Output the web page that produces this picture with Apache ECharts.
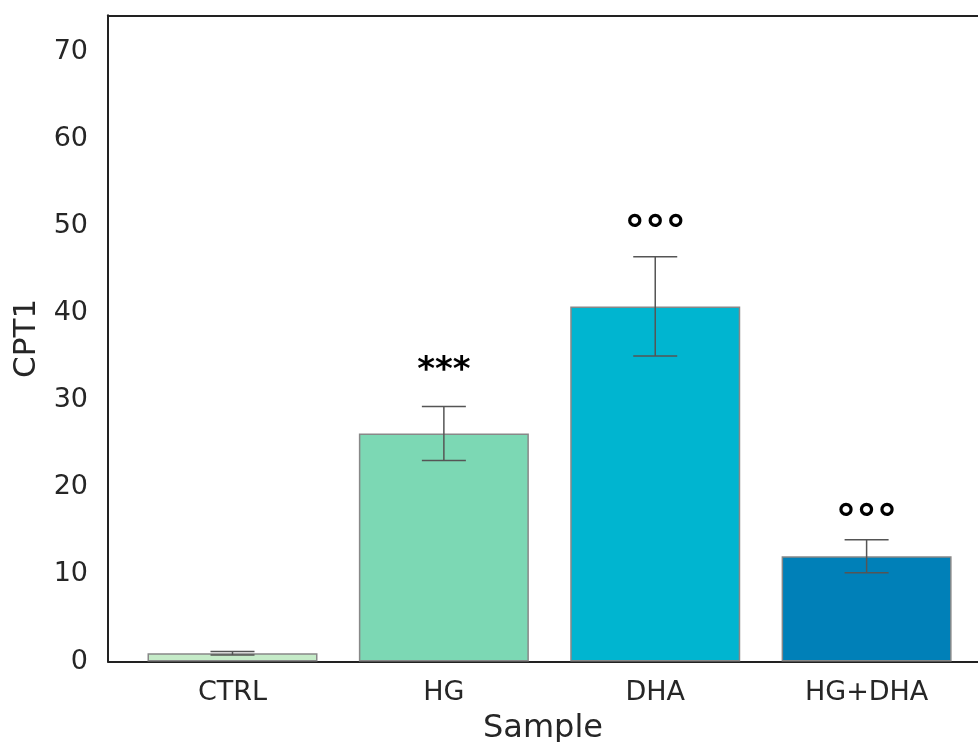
<!DOCTYPE html>
<html>
<head>
<meta charset="utf-8">
<script src="https://cdn.jsdelivr.net/npm/echarts@6/dist/echarts.min.js"></script>
<style>
html,body{margin:0;padding:0;background:#fff;}
#chart{width:978px;height:742px;}
</style>
</head>
<body>
<div id="chart"></div>
<script>
// ---- data ----
const categories = ['CTRL', 'HG', 'DHA', 'HG+DHA'];
const means = [0.95, 26.2, 40.8, 12.1];
const errors = [0.2, 3.1, 5.7, 1.9];
const annotations = ['', '***', '°°°', '°°°'];
const annotationY = [null, 34.3, 50.7, 17.5];
const yTicks = [0, 10, 20, 30, 40, 50, 60, 70];
const barColors = ['#c5ebc8', '#7cd8b4', '#00b5d0', '#0080b8'];

const FONT = 'DejaVu Sans';
const chart = echarts.init(document.getElementById('chart'), null, {renderer: 'canvas'});

const barData = means.map((v, i) => ({value: [i, v], itemStyle: {color: barColors[i]}}));
const errData = means.map((v, i) => [i, v - errors[i], v + errors[i]]);
const annData = annotations.map((t, i) => [i, annotationY[i], t]).filter(d => d[2] !== '');

chart.setOption({
  animation: false,
  backgroundColor: '#fff',
  grid: {left: 108, right: 0, top: 15.3, bottom: 80.5, containLabel: false, outerBoundsMode: 'none'},
  xAxis: [{
    type: 'value',
    min: -0.589,
    max: 3.527,
    position: 'bottom',
    axisLine: {show: true, onZero: false, lineStyle: {color: '#222', width: 2}},
    axisTick: {show: false},
    splitLine: {show: false},
    axisLabel: {
      customValues: [0, 1, 2, 3],
      formatter: v => categories[Math.round(v)],
      fontFamily: FONT, fontSize: 27, color: '#262626', margin: 18
    },
    name: 'Sample',
    nameLocation: 'middle',
    nameGap: 51,
    nameTextStyle: {fontFamily: FONT, fontSize: 32, color: '#262626'}
  }, {
    type: 'value',
    min: -0.589,
    max: 3.527,
    position: 'top',
    axisLine: {show: true, onZero: false, lineStyle: {color: '#222', width: 2}},
    axisTick: {show: false},
    splitLine: {show: false},
    axisLabel: {show: false}
  }],
  yAxis: {
    type: 'value',
    min: 0,
    max: 74.25,
    interval: 10,
    axisLine: {show: true, onZero: false, lineStyle: {color: '#222', width: 2}},
    axisTick: {show: false},
    splitLine: {show: false},
    axisLabel: {
      customValues: yTicks,
      fontFamily: FONT, fontSize: 27, color: '#262626', margin: 20,
      padding: [5, 0, 0, 0]
    },
    name: 'CPT1',
    nameLocation: 'middle',
    nameGap: 64,
    nameTextStyle: {fontFamily: FONT, fontSize: 31, color: '#262626'}
  },
  series: [{
    type: 'bar',
    xAxisIndex: 0,
    data: barData,
    barWidth: 170,
    itemStyle: {borderColor: '#888', borderWidth: 1.5},
    z: 2
  }, {
    type: 'custom',
    xAxisIndex: 0,
    data: errData,
    z: 3,
    renderItem: function (params, api) {
      const x = api.value(0);
      const lo = api.coord([x, api.value(1)]);
      const hi = api.coord([x, api.value(2)]);
      const hw = 22;
      const st = {stroke: '#555', lineWidth: 1.5};
      return {
        type: 'group',
        children: [
          {type: 'line', shape: {x1: lo[0], y1: lo[1], x2: hi[0], y2: hi[1]}, style: st},
          {type: 'line', shape: {x1: hi[0] - hw, y1: hi[1], x2: hi[0] + hw, y2: hi[1]}, style: st},
          {type: 'line', shape: {x1: lo[0] - hw, y1: lo[1], x2: lo[0] + hw, y2: lo[1]}, style: st}
        ]
      };
    }
  }, {
    type: 'custom',
    xAxisIndex: 0,
    data: annData,
    z: 4,
    renderItem: function (params, api) {
      const d = annData[params.dataIndex];
      const p = api.coord([d[0], d[1]]);
      const isStar = d[2] === '***';
      return {
        type: 'text',
        style: {
          text: d[2],
          x: p[0],
          y: p[1] + (isStar ? 8 : 13),
          align: 'center',
          verticalAlign: 'middle',
          fill: '#000',
          font: (isStar ? 'bold 34px ' : 'bold 41px ') + '"DejaVu Sans"'
        }
      };
    }
  }]
});
</script>
</body>
</html>
